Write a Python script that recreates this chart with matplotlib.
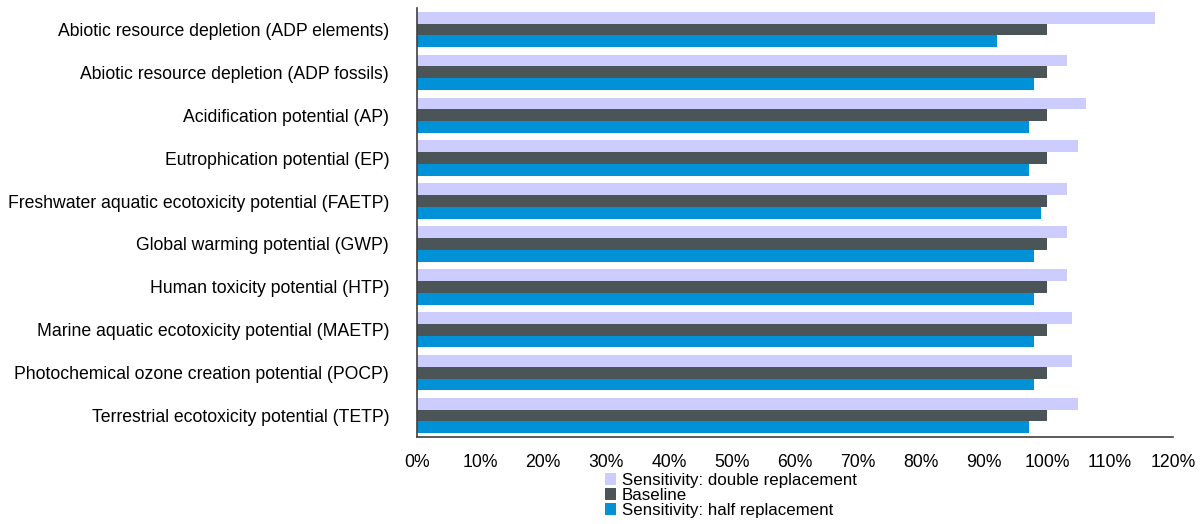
import matplotlib
matplotlib.use("Agg")
import matplotlib.pyplot as plt
import numpy as np
from matplotlib.ticker import FuncFormatter

plt.rcParams['font.family'] = ['Liberation Sans', 'DejaVu Sans']

categories = [
    "Abiotic resource depletion (ADP elements)",
    "Abiotic resource depletion (ADP fossils)",
    "Acidification potential (AP)",
    "Eutrophication potential (EP)",
    "Freshwater aquatic ecotoxicity potential (FAETP)",
    "Global warming potential (GWP)",
    "Human toxicity potential (HTP)",
    "Marine aquatic ecotoxicity potential (MAETP)",
    "Photochemical ozone creation potential (POCP)",
    "Terrestrial ecotoxicity potential (TETP)",
]
double_repl = [117.1, 103.1, 106.2, 104.9, 103.1, 103.1, 103.1, 104.0, 104.0, 104.9]
baseline = [100, 100, 100, 100, 100, 100, 100, 100, 100, 100]
half_repl = [92.0, 98.0, 97.1, 97.1, 99.1, 98.0, 98.0, 98.0, 98.0, 97.1]
series_names = ["Sensitivity: double replacement", "Baseline", "Sensitivity: half replacement"]
colors = ["#CCCCFF", "#4B5457", "#0091D6"]

fig = plt.figure(figsize=(12, 5.24), dpi=100)
ax = fig.add_axes([417/1200, 1-437/524, (1173-417)/1200, (437-8)/524])

y = np.arange(len(categories))
h = 0.275
for i, (vals, name, c) in enumerate(zip([double_repl, baseline, half_repl], series_names, colors)):
    ax.barh(y + (i - 1) * h, vals, height=h, color=c, label=name)

ax.set_ylim(len(categories) - 0.5, -0.5)
ax.set_xlim(0, 120)
ax.set_xticks(np.arange(0, 121, 10))
ax.xaxis.set_major_formatter(FuncFormatter(lambda v, p: f"{int(round(v))}%"))
ax.set_yticks(y)
ax.set_yticklabels(categories, fontsize=12.7)
ax.tick_params(axis='x', labelsize=12.7, length=0, pad=12)
ax.tick_params(axis='y', length=0, pad=20)
for s in ['top', 'right']:
    ax.spines[s].set_visible(False)
for s in ['left', 'bottom']:
    ax.spines[s].set_color('#404040')
    ax.spines[s].set_linewidth(1.2)

fig.legend(loc='upper left', bbox_to_anchor=(605/1200, 1-473/524), frameon=False,
           fontsize=12.2, handlelength=0.65, handleheight=0.65, labelspacing=0.0,
           handletextpad=0.35, borderaxespad=0, borderpad=0)

fig.savefig("out.png", dpi=100)
